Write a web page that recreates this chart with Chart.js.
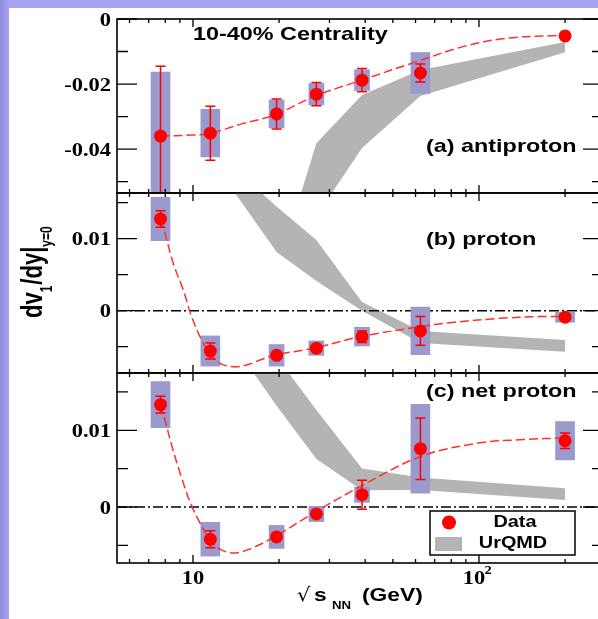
<!DOCTYPE html>
<html>
<head>
<meta charset="utf-8">
<script src="https://cdn.jsdelivr.net/npm/chart.js@4.4.0/dist/chart.umd.min.js"></script>
<style>
  html, body { margin: 0; padding: 0; width: 598px; height: 619px; overflow: hidden; }
  body { background: linear-gradient(90deg, #8f8ad9 0px, #a6a4f2 9px); }
  #sheet { position: absolute; left: 9px; top: 8px; right: 0; bottom: 0; background: #fff; }
  canvas { position: absolute; left: 0; top: 0; }
</style>
</head>
<body>
<div id="sheet"></div>
<canvas id="pa" width="610" height="619"></canvas>
<canvas id="pb" width="610" height="619"></canvas>
<canvas id="pc" width="610" height="619"></canvas>
<script>
// ============================================================
// dv1/dy vs sqrt(sNN) — antiproton / proton / net proton, 10-40%
// ============================================================

const ENERGY = [7.7, 11.5, 19.6, 27, 39, 62.4, 200];
const BAND_E = [11.5, 19.6, 27, 39, 62.4, 200];

// (a) antiproton
const PBAR_V1    = [-0.0360, -0.0351, -0.0292, -0.0231, -0.0188, -0.0166, -0.0052];
const PBAR_STAT  = [0.0215, 0.0083, 0.0046, 0.0036, 0.0036, 0.0028, 0.0004];
const PBAR_SYS   = [0.0197, 0.0073, 0.0043, 0.0033, 0.0032, 0.0063, 0];
const PBAR_URQMD_HI = [-0.120, -0.078, -0.0382, -0.0234, -0.0157, -0.0071];
const PBAR_URQMD_LO = [-0.140, -0.100, -0.0606, -0.0397, -0.0237, -0.0102];
const PBAR_FIT_E = [7.7, 9.76, 11.4, 15.0, 19.3, 26.7, 38.9, 60.5, 88, 125, 187, 200];
const PBAR_FIT   = [-0.0360, -0.0357, -0.0352, -0.0321, -0.0295, -0.0237, -0.0188, -0.0131, -0.0085, -0.0059, -0.0051, -0.0051];

// (b) proton
const P_V1    = [0.01274, -0.0056, -0.0062, -0.0052, -0.0036, -0.0028, -0.0009];
const P_STAT  = [0.00115, 0.0011, 0.0003, 0.0004, 0.0008, 0.0020, 0.0002];
const P_SYS   = [0.0030, 0.0021, 0.0015, 0.0010, 0.0013, 0.0033, 0.0007];
const P_URQMD_HI = [0.0228, 0.01447, 0.00982, 0.00121, -0.00282, -0.00407];
const P_URQMD_LO = [0.0212, 0.00815, 0.00413, 0.0000, -0.00449, -0.00569];
const P_FIT_E = [7.7, 7.98, 8.53, 9.25, 9.89, 10.72, 11.46, 12.42, 13.83, 15.4, 17.14, 19.34, 26.3, 38.4, 62.2, 79, 118, 163, 200];
const P_FIT   = [0.0127, 0.01075, 0.00658, 0.00287, -0.00083, -0.00407, -0.0059, -0.0073, -0.00778, -0.00754, -0.00685, -0.00615, -0.00522, -0.00361, -0.00222, -0.00167, -0.00106, -0.00082, -0.0008];

// (c) net proton
const NETP_V1    = [0.01334, -0.0042, -0.0039, -0.0009, 0.0016, 0.0076, 0.00864];
const NETP_STAT  = [0.0011, 0.0011, 0.0002, 0.0002, 0.0019, 0.0040, 0.0010];
const NETP_SYS   = [0.0030, 0.0022, 0.0015, 0.0010, 0.0010, 0.0058, 0.0025];
const NETP_URQMD_HI = [0.0312, 0.0196, 0.01265, 0.00502, 0.00385, 0.00244];
const NETP_URQMD_LO = [0.0255, 0.0132, 0.00626, 0.0022, 0.00222, 0.00091];
const NETP_FIT_E = [7.7, 7.98, 8.45, 9.10, 9.80, 10.6, 11.6, 12.5, 13.83, 15.6, 19.3, 26.3, 38.4, 62.2, 98, 143, 200];
const NETP_FIT   = [0.01334, 0.01134, 0.00786, 0.00395, 0.00052, -0.00213, -0.00452, -0.00556, -0.0060, -0.00556, -0.00387, -0.00082, 0.00265, 0.00656, 0.0083, 0.0088, 0.0090];

// axes
const X_MIN = 5.424, X_MAX = 271.4;
const X_MAJOR = [10, 100];
const X_MINOR = [6, 7, 8, 9, 20, 30, 40, 50, 60, 70, 80, 90, 200];
const A_MAJOR = [0, -0.02, -0.04],  A_LABELS = ['0', '-0.02', '-0.04'], A_MINOR = [-0.01, -0.03, -0.05];
const BC_MAJOR = [0.01, 0],         BC_LABELS = ['0.01', '0'],          BC_MINOR = [0.015, 0.005, -0.005];

// styles
const RED = '#ff0000', FIT_RED = '#ff3030', BOX_COLOR = '#9a9acd', BAND_COLOR = '#b4b4b4';
const BOX_WIDE = [1, 1, 0, 0, 0, 1, 1];
const PAGE_H = 619, PLOT_LEFT = 117, PLOT_RIGHT = 603, CANVAS_W = 610;
const SERIF_FAMILY = '"Liberation Serif", "DejaVu Serif", serif';
const SANS_FAMILY = '"Liberation Sans", Arial, sans-serif';
const SERIF = 'bold 18px ' + SERIF_FAMILY;
const SANS = 'bold 19px ' + SANS_FAMILY;

const PANELS = {
  a: { top: 19,  bottom: 193, yMin: -0.0535,  yMax: 0,       val: PBAR_V1, stat: PBAR_STAT, sys: PBAR_SYS,
       hi: PBAR_URQMD_HI, lo: PBAR_URQMD_LO, fitE: PBAR_FIT_E, fit: PBAR_FIT,
       majors: A_MAJOR, labels: A_LABELS, minors: A_MINOR, name: '(a) antiproton', nameY: 147, zero: false },
  b: { top: 193, bottom: 373, yMin: -0.00865, yMax: 0.01635, val: P_V1, stat: P_STAT, sys: P_SYS,
       hi: P_URQMD_HI, lo: P_URQMD_LO, fitE: P_FIT_E, fit: P_FIT,
       majors: BC_MAJOR, labels: BC_LABELS, minors: BC_MINOR, name: '(b) proton', nameY: 240, zero: true },
  c: { top: 373, bottom: 563, yMin: -0.0073,  yMax: 0.01747, val: NETP_V1, stat: NETP_STAT, sys: NETP_SYS,
       hi: NETP_URQMD_HI, lo: NETP_URQMD_LO, fitE: NETP_FIT_E, fit: NETP_FIT,
       majors: BC_MAJOR, labels: BC_LABELS, minors: BC_MINOR, name: '(c) net proton', nameY: 392, zero: true },
};

// stretched text (the original figure is wider than tall)
function text(ctx, t, x, y, font, align, sx, base) {
  ctx.save();
  ctx.translate(x, y);
  ctx.scale(sx, 1);
  ctx.font = font;
  ctx.textAlign = align;
  ctx.textBaseline = base || 'middle';
  ctx.fillText(t, 0, 0);
  ctx.restore();
}

function drawYTitle(ctx) {
  const parts = ['dv', '1', '/dy|', 'y=0'];
  ctx.save();
  ctx.translate(42, 318);
  ctx.scale(1.3, 1);
  ctx.rotate(-Math.PI / 2);
  ctx.fillStyle = '#000';
  ctx.textAlign = 'left';
  ctx.textBaseline = 'alphabetic';
  let u = 0;
  parts.forEach((t, i) => {
    const sub = i % 2 === 1;
    ctx.font = (sub ? 'bold 12px ' : 'bold 22px ') + SANS_FAMILY;
    ctx.fillText(t, u, sub ? 8 : 0);
    u += ctx.measureText(t).width + (sub ? 1 : 0);
  });
  ctx.restore();
}

function drawXTitle(ctx, x) {
  ctx.fillStyle = '#000';
  const p10 = x.getPixelForValue(10), p100 = x.getPixelForValue(100);
  text(ctx, '10', p10, 579, SERIF, 'center', 1.25);
  text(ctx, '10', p100 - 5, 579, SERIF, 'center', 1.25);
  text(ctx, '2', p100 + 9, 571, 'bold 12px ' + SERIF_FAMILY, 'center', 1.2);
  text(ctx, '\u221A', 297, 601, '19px "DejaVu Sans"', 'left', 1.1, 'alphabetic');
  text(ctx, 's', 314, 601, SANS, 'left', 1.2, 'alphabetic');
  text(ctx, 'NN', 332, 609, 'bold 11px ' + SANS_FAMILY, 'left', 1.2, 'alphabetic');
  text(ctx, '(GeV)', 362, 601, SANS, 'left', 1.2, 'alphabetic');
}

function drawLegend(ctx) {
  ctx.save();
  ctx.fillStyle = '#fff';
  ctx.fillRect(430, 511, 145, 44);
  ctx.strokeStyle = '#000';
  ctx.lineWidth = 1.5;
  ctx.strokeRect(430, 511, 145, 44);
  ctx.fillStyle = RED;
  ctx.beginPath();
  ctx.arc(449, 522.5, 7, 0, Math.PI * 2);
  ctx.fill();
  ctx.fillStyle = BAND_COLOR;
  ctx.fillRect(435, 537, 27, 14);
  ctx.fillStyle = '#000';
  text(ctx, 'Data', 515, 523, 'bold 16px ' + SANS_FAMILY, 'center', 1.24);
  text(ctx, 'UrQMD', 513, 544, 'bold 16px ' + SANS_FAMILY, 'center', 1.24);
  ctx.restore();
}

const deco = {
  id: 'deco',
  afterDatasetsDraw(chart, args, opts) {
    const p = PANELS[opts.panel];
    const { ctx, chartArea: a, scales: { x, y } } = chart;
    ctx.save();
    ctx.beginPath();
    ctx.rect(a.left, a.top, a.right - a.left, a.bottom - a.top);
    ctx.clip();
    ctx.strokeStyle = RED;
    ctx.lineWidth = 1.5;
    ENERGY.forEach((e, i) => {
      const px = x.getPixelForValue(e);
      const y1 = y.getPixelForValue(p.val[i] + p.stat[i]);
      const y2 = y.getPixelForValue(p.val[i] - p.stat[i]);
      ctx.beginPath();
      ctx.moveTo(px, y1); ctx.lineTo(px, y2);
      ctx.moveTo(px - 5, y1); ctx.lineTo(px + 5, y1);
      ctx.moveTo(px - 5, y2); ctx.lineTo(px + 5, y2);
      ctx.stroke();
    });
    ctx.restore();
  },
  afterDraw(chart, args, opts) {
    const key = opts.panel;
    const p = PANELS[key];
    const { ctx, chartArea: a, scales: { x, y } } = chart;
    ctx.save();
    ctx.strokeStyle = '#000';
    ctx.lineWidth = 1.6;
    ctx.strokeRect(a.left, a.top, a.right - a.left, a.bottom - a.top);

    ctx.lineWidth = 1.3;
    ctx.beginPath();
    const yTick = (v, len) => {
      const py = y.getPixelForValue(v);
      ctx.moveTo(a.left, py);  ctx.lineTo(a.left + len, py);
      ctx.moveTo(a.right, py); ctx.lineTo(a.right - len, py);
    };
    const xTick = (v, len) => {
      const px = x.getPixelForValue(v);
      ctx.moveTo(px, a.top);    ctx.lineTo(px, a.top + len);
      ctx.moveTo(px, a.bottom); ctx.lineTo(px, a.bottom - len);
    };
    p.majors.forEach(v => yTick(v, 20));
    p.minors.forEach(v => yTick(v, 11));
    X_MAJOR.forEach(v => xTick(v, 8));
    X_MINOR.forEach(v => xTick(v, 4));
    ctx.stroke();

    ctx.fillStyle = '#000';
    p.majors.forEach((v, i) => text(ctx, p.labels[i], 111, y.getPixelForValue(v) + 2, SERIF, 'right', 1.25));
    text(ctx, p.name, 426, p.nameY, SANS, 'left', 1.23);

    if (key === 'a') text(ctx, '10-40% Centrality', 193, 35, SANS, 'left', 1.23);
    if (key === 'b') drawYTitle(ctx);
    if (key === 'c') { drawXTitle(ctx, x); drawLegend(ctx); }
    ctx.restore();
  }
};

function makeChart(id, key) {
  const p = PANELS[key];
  const boxes = wide => ENERGY
    .map((e, i) => ({ x: e, y: [p.val[i] - p.sys[i], p.val[i] + p.sys[i]], w: BOX_WIDE[i], s: p.sys[i] }))
    .filter(d => d.w === wide && d.s > 0);
  const datasets = [
    { type: 'line', order: 0, data: ENERGY.map((e, i) => ({ x: e, y: p.val[i] })),
      showLine: false, pointRadius: 6.5, pointHoverRadius: 6.5, pointBackgroundColor: RED, pointBorderWidth: 0 },
    { type: 'line', order: 1, data: p.fitE.map((e, i) => ({ x: e, y: p.fit[i] })),
      borderColor: FIT_RED, borderWidth: 1.5, borderDash: [9, 4], pointRadius: 0, tension: 0.35, fill: false },
    { type: 'bar', order: 2, data: boxes(1), barThickness: 19, grouped: false, backgroundColor: BOX_COLOR, borderWidth: 0 },
    { type: 'bar', order: 2, data: boxes(0), barThickness: 15, grouped: false, backgroundColor: BOX_COLOR, borderWidth: 0 },
    { type: 'line', order: 4, data: BAND_E.map((e, i) => ({ x: e, y: p.hi[i] })),
      fill: '+1', backgroundColor: BAND_COLOR, borderColor: 'rgba(0,0,0,0)', borderWidth: 0, pointRadius: 0, tension: 0 },
    { type: 'line', order: 5, data: BAND_E.map((e, i) => ({ x: e, y: p.lo[i] })),
      fill: false, borderColor: 'rgba(0,0,0,0)', borderWidth: 0, pointRadius: 0, tension: 0 },
  ];
  if (p.zero) {
    datasets.push({ type: 'line', order: 3, data: [{ x: X_MIN, y: 0 }, { x: X_MAX, y: 0 }],
      borderColor: '#000', borderWidth: 1.5, borderDash: [10, 3, 2, 3], pointRadius: 0, fill: false });
  }

  return new Chart(document.getElementById(id), {
    type: 'line',
    data: { datasets },
    options: {
      responsive: false, animation: false, devicePixelRatio: 1, events: [],
      layout: { padding: { left: PLOT_LEFT, right: CANVAS_W - PLOT_RIGHT, top: p.top, bottom: PAGE_H - p.bottom } },
      scales: {
        x: { type: 'logarithmic', min: X_MIN, max: X_MAX, display: false, offset: false },
        y: { type: 'linear', min: p.yMin, max: p.yMax, display: false },
      },
      plugins: { legend: { display: false }, tooltip: { enabled: false }, deco: { panel: key } },
    },
    plugins: [deco],
  });
}

makeChart('pa', 'a');
makeChart('pb', 'b');
makeChart('pc', 'c');
</script>
</body>
</html>
